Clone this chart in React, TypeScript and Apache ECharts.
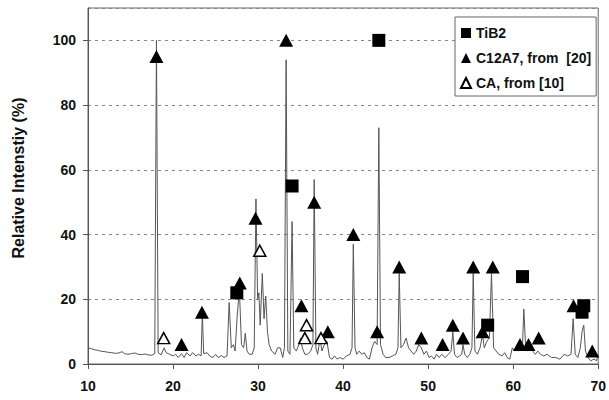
import React, { useEffect, useRef } from "react";
import * as echarts from "echarts";

// XRD pattern (2θ, relative intensity %)
const spectrum: [number, number][] = [
  [10, 5], [10.4, 4.7], [10.8, 4.4], [11.2, 4.2], [11.6, 3.9], [12, 3.8], [12.4, 3.6], [12.8, 3.5],
  [13.2, 3.3], [13.6, 3.4], [14, 3.8], [14.3, 3.2], [14.7, 3.0], [15.1, 3.2], [15.5, 3.4], [15.9, 3.0],
  [16.3, 2.9], [16.7, 3.1], [17.1, 2.8], [17.5, 2.7], [17.85, 3.2], [18.05, 100], [18.25, 3.5],
  [18.6, 2.8], [18.95, 5], [19.2, 3.5], [19.6, 3.0], [20, 2.5], [20.3, 3.0], [20.6, 2.0], [21, 3.2],
  [21.3, 2.0], [21.6, 3.5], [22, 2.5], [22.3, 3.5], [22.7, 2.5], [23, 3.0], [23.3, 2.5], [23.45, 16],
  [23.6, 3.2], [24, 3.5], [24.3, 2.5], [24.7, 2.0], [25, 3.0], [25.3, 2.0], [25.7, 2.6], [26, 2.0],
  [26.35, 2.5], [26.6, 19], [26.85, 5], [27.1, 6], [27.3, 4], [27.55, 15], [27.8, 23], [28.05, 6],
  [28.3, 5], [28.5, 9.5], [28.7, 4], [28.95, 3], [29.3, 3], [29.55, 5], [29.75, 51], [29.95, 20],
  [30.1, 22], [30.25, 12], [30.5, 28], [30.7, 14], [30.9, 21], [31.1, 10], [31.3, 6], [31.6, 4],
  [32, 3], [32.3, 5], [32.6, 5], [32.9, 2], [33.1, 5], [33.3, 94], [33.5, 4], [33.75, 3], [34.0, 44],
  [34.2, 5], [34.5, 4], [34.8, 6], [35.0, 8], [35.2, 5], [35.5, 3], [35.8, 3], [36.2, 4], [36.45, 6],
  [36.6, 57], [36.8, 5], [37.0, 3], [37.3, 8], [37.5, 4], [37.8, 6], [38.1, 7], [38.4, 2], [38.7, 1.5],
  [39, 2.5], [39.3, 1.5], [39.6, 2], [40, 1.5], [40.4, 2.5], [40.8, 3], [41.05, 5], [41.2, 37],
  [41.4, 5], [41.6, 3], [41.9, 4], [42.2, 3], [42.5, 3.5], [42.8, 2], [43.1, 1.5], [43.4, 5], [43.7, 7],
  [44.0, 6], [44.2, 73], [44.4, 6], [44.7, 3], [45, 2], [45.4, 2], [45.8, 2.5], [46.2, 3], [46.45, 5],
  [46.6, 28], [46.8, 5], [47.1, 6], [47.4, 8], [47.7, 5], [48, 4], [48.3, 3], [48.6, 4], [48.9, 6],
  [49.2, 5], [49.5, 3], [49.8, 4], [50.1, 2], [50.4, 2.5], [50.7, 1.5], [51, 3], [51.3, 2], [51.6, 3],
  [52, 2], [52.4, 3], [52.7, 4], [52.9, 10], [53.1, 3], [53.4, 2], [53.7, 2.5], [53.95, 3], [54.1, 6],
  [54.3, 3], [54.6, 2], [54.9, 3], [55.15, 5], [55.3, 28], [55.5, 4], [55.8, 3], [56.1, 5], [56.4, 9],
  [56.6, 5], [56.9, 7], [57.2, 8], [57.45, 28], [57.7, 5], [58, 4], [58.3, 3], [58.7, 2.5], [59, 3.5],
  [59.3, 2], [59.6, 1.5], [59.9, 5], [60.2, 4], [60.5, 6], [60.8, 5], [61.1, 6], [61.25, 17],
  [61.45, 6], [61.7, 4], [62, 6], [62.3, 4], [62.6, 3], [62.9, 4], [63.2, 3], [63.6, 2.5], [64, 3],
  [64.5, 2], [65, 2], [65.5, 1.5], [66, 3], [66.4, 2.5], [66.8, 3], [67.05, 14], [67.3, 3], [67.6, 2],
  [67.9, 5], [68.1, 10], [68.3, 12], [68.5, 4], [68.8, 2], [69.1, 1], [69.5, 1.5], [69.8, 1], [70, 3],
];

const tib2: [number, number][] = [
  [44.2, 100], [34.0, 55], [27.5, 22], [61.1, 27], [57.0, 12], [68.3, 18], [68.1, 16],
];

const c12a7: [number, number][] = [
  [18.05, 95], [33.3, 100], [29.7, 45], [27.85, 25], [23.4, 16], [21.0, 6], [36.6, 50], [41.2, 40],
  [35.1, 18], [38.2, 10], [44.0, 10], [46.6, 30], [49.2, 8], [51.7, 6], [52.9, 12], [54.1, 8],
  [55.3, 30], [57.6, 30], [56.4, 10], [60.8, 6], [61.8, 6], [63.0, 8], [67.1, 18], [69.3, 4],
];

const ca: [number, number][] = [
  [18.9, 8], [30.2, 35], [35.7, 12], [35.5, 8], [37.4, 8],
];

const xTicks = [10, 20, 30, 40, 50, 60, 70];
const yTicks = [0, 20, 40, 60, 80, 100];

const FONT = "'Liberation Sans', Arial, sans-serif";

export default function App() {
  const ref = useRef<HTMLDivElement>(null);
  useEffect(() => {
    if (!ref.current) return;
    const chart = echarts.init(ref.current, undefined, { renderer: "svg" });
    chart.setOption({
      animation: false,
      backgroundColor: "#fff",
      textStyle: { fontFamily: FONT },
      grid: {
        left: 88, right: 6, top: 8, bottom: 36,
        show: true, borderColor: "#666", borderWidth: 1, backgroundColor: "transparent",
      },
      legend: {
        left: 455, top: 17, orient: "vertical",
        padding: [9, 5, 6, 5],
        itemWidth: 10, itemHeight: 10, itemGap: 11,
        backgroundColor: "#fff", borderColor: "#666", borderWidth: 1,
        textStyle: { fontFamily: FONT, fontSize: 14, fontWeight: "bold", color: "#111" },
        data: [
          { name: "TiB2", icon: "rect" },
          { name: "C12A7, from  [20]", icon: "triangle" },
          { name: "CA, from [10]", icon: "triangle" },
        ],
      },
      xAxis: {
        type: "value", min: xTicks[0], max: xTicks[xTicks.length - 1], interval: 10,
        axisLine: { show: true, lineStyle: { color: "#555", width: 1 } },
        axisTick: { show: true, length: 5, lineStyle: { color: "#555" } },
        axisLabel: { fontFamily: FONT, fontSize: 14, fontWeight: "bold", color: "#111", margin: 15 },
        splitLine: { show: false },
      },
      yAxis: {
        type: "value", min: 0, max: 110, interval: 20,
        name: "Relative Intenstiy (%)",
        nameLocation: "middle", nameGap: 62,
        nameTextStyle: {
          fontFamily: FONT, fontSize: 16, fontWeight: "bold", color: "#111",
          padding: [0, 0, 0, 16],
        },
        axisLine: { show: true, lineStyle: { color: "#555", width: 1 } },
        axisTick: { show: true, length: 5, lineStyle: { color: "#555" } },
        axisLabel: {
          fontFamily: FONT, fontSize: 14, fontWeight: "bold", color: "#111", margin: 12,
          showMaxLabel: false,
          formatter: (v: number) => (yTicks.includes(v) ? String(v) : ""),
        },
        splitLine: { show: true, lineStyle: { color: "#888", type: [3, 4], width: 1 } },
      },
      series: [
        {
          name: "Pattern", type: "line", data: spectrum, showSymbol: false, symbol: "none",
          lineStyle: { color: "#555", width: 1 }, z: 2, silent: true,
        },
        {
          name: "TiB2", type: "scatter", data: tib2, symbol: "rect", symbolSize: 13,
          itemStyle: { color: "#000", opacity: 1 }, z: 5,
        },
        {
          name: "C12A7, from  [20]", type: "scatter", data: c12a7, symbol: "triangle", symbolSize: [14, 13],
          itemStyle: { color: "#000", opacity: 1 }, z: 5,
        },
        {
          name: "CA, from [10]", type: "scatter", data: ca, symbol: "triangle", symbolSize: [12, 11],
          itemStyle: { color: "#fff", borderColor: "#000", borderWidth: 1.5, opacity: 1 }, z: 6,
        },
      ],
    });
    return () => chart.dispose();
  }, []);
  return <div ref={ref} style={{ width: 609, height: 400, position: "absolute", left: 0, top: 0 }} />;
}
